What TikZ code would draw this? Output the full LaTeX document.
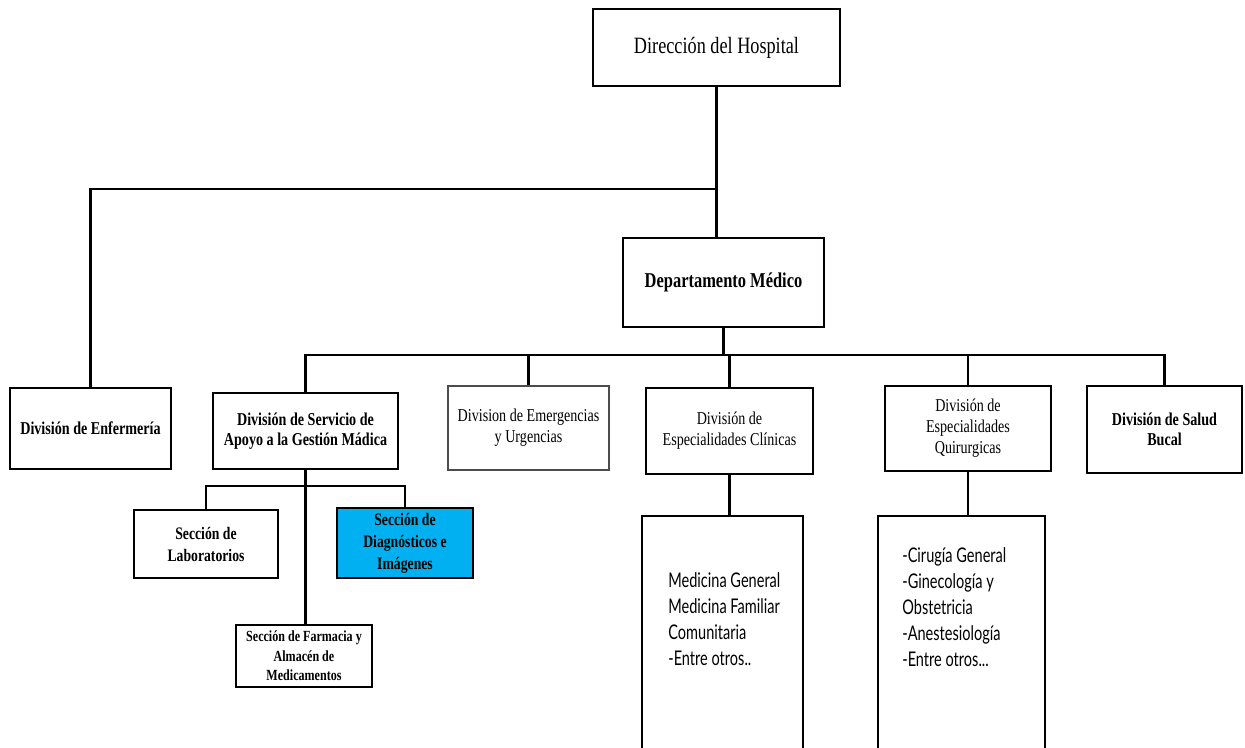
\documentclass[tikz,border=0pt]{standalone}
\usepackage{fontspec}
\setmainfont[FakeStretch=0.78]{Liberation Serif}
\newfontfamily\listfont[FakeStretch=0.72]{Lato}
\definecolor{diagblue}{HTML}{00B0F0}
\begin{document}
\begin{tikzpicture}
		[unit/.style={draw,line width=1.2pt,align=center,inner sep=2pt},
		boss/.style={unit,font=\bfseries\fontsize{10.3}{11.5}\selectfont},
		plain/.style={unit,font=\fontsize{10.3}{12}\selectfont},
		faint/.style={plain,draw=black!70,line width=0.6pt},
		sect/.style={unit,font=\bfseries\fontsize{10}{12.5}\selectfont},
		tall/.style={draw,line width=1.2pt,anchor=north,minimum width=3.3cm,minimum height=5.4cm},
		list/.style={anchor=north west,align=left,inner sep=0pt,font=\listfont\fontsize{11.5}{14.7}\selectfont},
		link/.style={line width=1.2pt}]
		\useasboundingbox (0,0) rectangle (24.9,-14.94);
		\clip (0,0) rectangle (24.9,-14.94);
		\node[unit,name=dir,minimum width=4.94cm,minimum height=1.54cm,font=\fontsize{13.3}{15}\selectfont]at(14.33,-0.95){Dirección del Hospital};
		\node[unit,name=dep,minimum width=4.02cm,minimum height=1.78cm,font=\bfseries\fontsize{12}{14}\selectfont]at(14.47,-5.65){Departamento Médico};
		\node[boss,name=enf,minimum width=3.22cm,minimum height=1.62cm]at(1.81,-8.57){División de Enfermería};
		\node[boss,name=apoyo,minimum width=3.70cm,minimum height=1.52cm]at(6.11,-8.62){División de Servicio de\\Apoyo a la Gestión Mádica};
		\node[faint,name=emer,minimum width=3.22cm,minimum height=1.68cm]at(10.57,-8.56){Division de Emergencias\\y Urgencias};
		\node[plain,name=clin,minimum width=3.34cm,minimum height=1.72cm]at(14.59,-8.62){División de\\Especialidades Clínicas};
		\node[plain,name=quir,minimum width=3.32cm,minimum height=1.70cm]at(19.36,-8.57){División de\\Especialidades\\Quirurgicas};
		\node[boss,name=bucal,minimum width=3.10cm,minimum height=1.74cm]at(23.29,-8.59){División de Salud\\Bucal};
		\node[sect,name=lab,minimum width=2.88cm,minimum height=1.36cm]at(4.12,-10.88){Sección de\\Laboratorios};
		\node[sect,name=diag,fill=diagblue,minimum width=2.72cm,minimum height=1.40cm]at(8.10,-10.86){Sección de\\Diagnósticos e\\Imágenes};
		\node[sect,name=farm,minimum width=2.72cm,minimum height=1.24cm,font=\bfseries\fontsize{8.8}{11}\selectfont]at(6.08,-13.12){Sección de Farmacia y\\Almacén de\\Medicamentos};
		\node[tall,name=med,minimum width=3.22cm]at(14.45,-10.30){};
		\node[tall,name=cir,minimum width=3.34cm]at(19.23,-10.30){};
		\node[list,name=medlist]at(13.36,-11.45){Medicina General\\Medicina Familiar\\Comunitaria\\-Entre otros..};
		\node[list,name=cirlist]at(18.04,-10.95){-Cirugía General\\-Ginecología y\\Obstetricia\\-Anestesiología\\-Entre otros...};
		\coordinate (top) at (14.33,-3.78);
		\coordinate (mid) at (14.47,-7.10);
		\coordinate (low) at (6.11,-9.72);
		\draw[link] (dir.south)--(dir.south|-dep.north);
		\draw[link] (enf.north)|-(top);
		\draw[link] (dep.south)--(mid);
		\draw[link] (apoyo.north)|-(mid)-|(bucal.north);
		\draw[link] (emer.north)--(emer.north|-mid);
		\draw[link] (clin.north)--(clin.north|-mid);
		\draw[link] (quir.north)--(quir.north|-mid);
		\draw[link] (apoyo.south)--(apoyo.south|-farm.north);
		\draw[link] (lab.north)|-(low)-|(diag.north);
		\draw[link] (clin.south)--(clin.south|-med.north);
		\draw[link] (quir.south)--(quir.south|-cir.north);
	\end{tikzpicture}
\end{document}
